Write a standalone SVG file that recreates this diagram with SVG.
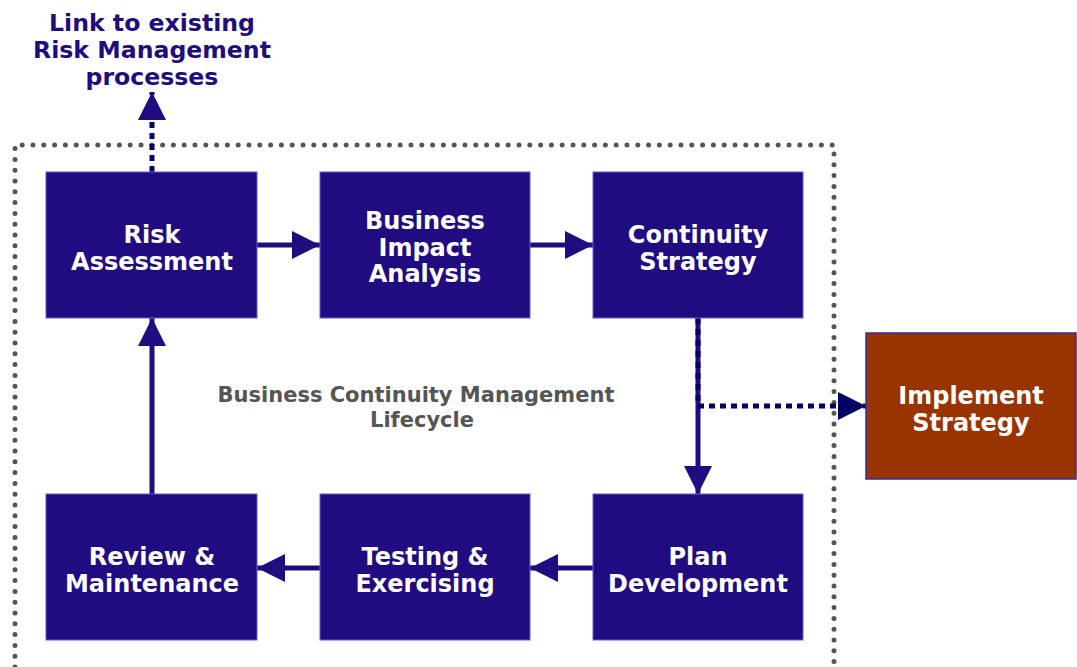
<svg xmlns="http://www.w3.org/2000/svg" width="1077" height="667" viewBox="0 0 1077 667">
<style>
.box{fill:#200c80;stroke:#6a5acd;stroke-width:1}
.imp{fill:#993300;stroke:#3a2a9a;stroke-width:1.5}
.t{font-family:"DejaVu Sans",Verdana,sans-serif;font-weight:bold;font-size:24px;fill:#fff;text-anchor:middle}
.title{font-family:"DejaVu Sans",Verdana,sans-serif;font-weight:bold;font-size:23.6px;fill:#200c80;text-anchor:middle}
.lbl{font-family:"DejaVu Sans",Verdana,sans-serif;font-weight:bold;font-size:21px;fill:#555;text-anchor:middle}
.solid{stroke:#200c80;stroke-width:5;fill:none}
.dash{stroke:#000066;stroke-width:5;fill:none;stroke-dasharray:6 5}
.border{stroke:#555;stroke-width:5;fill:none;stroke-dasharray:0 10.8;stroke-linecap:round}
</style>
<defs>
<marker id="ah" markerWidth="28" markerHeight="28" viewBox="0 0 28 28" refX="28" refY="14" orient="auto" markerUnits="userSpaceOnUse">
<path d="M0,0 L28,14 L0,28 Z" fill="#200c80"/>
</marker>
<marker id="ahd" markerWidth="28" markerHeight="28" viewBox="0 0 28 28" refX="28" refY="14" orient="auto" markerUnits="userSpaceOnUse">
<path d="M0,0 L28,14 L0,28 Z" fill="#000066"/>
</marker>
</defs>
<path class="border" d="M15,667 L15,145 L834,145 L834,667"/>
<g id="connectors">
<line class="solid" x1="257" y1="245" x2="320" y2="245" marker-end="url(#ah)"/>
<line class="solid" x1="530" y1="245" x2="593" y2="245" marker-end="url(#ah)"/>
<line class="solid" x1="698" y1="318" x2="698" y2="494" marker-end="url(#ah)"/>
<line class="solid" x1="593" y1="568" x2="530" y2="568" marker-end="url(#ah)"/>
<line class="solid" x1="320" y1="568" x2="257" y2="568" marker-end="url(#ah)"/>
<line class="solid" x1="152" y1="494" x2="152" y2="318" marker-end="url(#ah)"/>
<polyline class="dash" points="698,318 698,406 866,406" marker-end="url(#ahd)"/>
<line class="dash" x1="152" y1="172" x2="152" y2="92" marker-end="url(#ah)"/>
</g>
<g id="title"><text class="title"><tspan x="152" y="31">Link to existing</tspan><tspan x="152" y="58">Risk Management</tspan><tspan x="152" y="85">processes</tspan></text></g>
<g id="lifecycle"><text class="lbl"><tspan x="416" y="402">Business Continuity Management</tspan><tspan x="422" y="427">Lifecycle</tspan></text></g>
<g id="risk"><rect class="box" x="46" y="172" width="211" height="146"/><text class="t"><tspan x="152" y="243">Risk</tspan><tspan x="152" y="270">Assessment</tspan></text></g>
<g id="bia"><rect class="box" x="320" y="172" width="210" height="146"/><text class="t"><tspan x="425" y="229">Business</tspan><tspan x="425" y="256">Impact</tspan><tspan x="425" y="282">Analysis</tspan></text></g>
<g id="strategy"><rect class="box" x="593" y="172" width="210" height="146"/><text class="t"><tspan x="698" y="243">Continuity</tspan><tspan x="698" y="270">Strategy</tspan></text></g>
<g id="implement"><rect class="imp" x="866" y="333" width="210" height="146"/><text class="t"><tspan x="971" y="404">Implement</tspan><tspan x="971" y="431">Strategy</tspan></text></g>
<g id="plan"><rect class="box" x="593" y="494" width="210" height="146"/><text class="t"><tspan x="698" y="565">Plan</tspan><tspan x="698" y="592">Development</tspan></text></g>
<g id="testing"><rect class="box" x="320" y="494" width="210" height="146"/><text class="t"><tspan x="425" y="565">Testing &amp;</tspan><tspan x="425" y="592">Exercising</tspan></text></g>
<g id="review"><rect class="box" x="46" y="494" width="211" height="146"/><text class="t"><tspan x="152" y="565">Review &amp;</tspan><tspan x="152" y="592">Maintenance</tspan></text></g>
</svg>
